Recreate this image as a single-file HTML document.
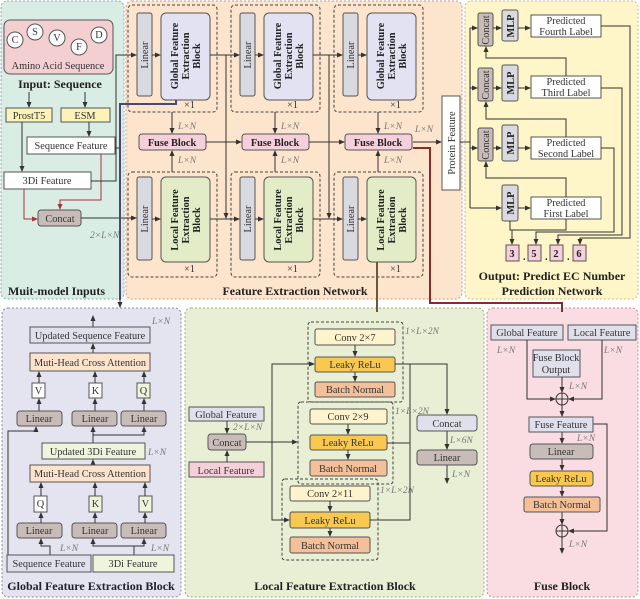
<!DOCTYPE html>
<html><head><meta charset="utf-8"><style>
html,body{margin:0;padding:0;background:#fff}
svg{display:block}
text{font-family:"Liberation Serif",serif;font-size:10.3px;fill:#333}
.b{font-weight:bold;fill:#222}
.t{font-weight:bold;font-size:12px;fill:#222}
.i{font-style:italic;fill:#777;font-size:9.5px}
.bx{stroke:#555;stroke-width:1}
.ln{stroke:#333;stroke-width:1;fill:none}
.dg{stroke:#444;stroke-width:1;fill:none;stroke-dasharray:3,2}
</style></head><body>
<svg width="640" height="599" viewBox="0 0 640 599" xmlns="http://www.w3.org/2000/svg">
<defs><marker id="a" markerWidth="6" markerHeight="6" refX="5" refY="3" orient="auto"><path d="M0,0.5 L6,3 L0,5.5z" fill="#333"/></marker>
<marker id="r" markerWidth="6" markerHeight="6" refX="5" refY="3" orient="auto"><path d="M0,0.5 L6,3 L0,5.5z" fill="#a33"/></marker></defs>
<rect x="1" y="1" width="123" height="298" rx="6" fill="#d9ede4" stroke="#8aa" stroke-dasharray="2,2"/>
<rect x="126" y="1" width="336" height="298" rx="6" fill="#fde4cc" stroke="#c98" stroke-dasharray="2,2"/>
<rect x="465" y="1" width="173" height="298" rx="6" fill="#fef6c8" stroke="#cb8" stroke-dasharray="2,2"/>
<rect x="2" y="308" width="179" height="289" rx="6" fill="#e4e3f0" stroke="#889" stroke-dasharray="2,2"/>
<rect x="185" y="308" width="299" height="289" rx="6" fill="#e8efd4" stroke="#9a8" stroke-dasharray="2,2"/>
<rect x="487" y="308" width="151" height="289" rx="6" fill="#fadde2" stroke="#c89" stroke-dasharray="2,2"/>

<rect x="4" y="20" width="109" height="54" rx="6" fill="#f4cfd2" class="bx"/>
<g fill="#fff" stroke="#555"><circle cx="15" cy="40" r="8"/><circle cx="35" cy="32" r="8"/><circle cx="57" cy="38" r="8"/><circle cx="79" cy="47" r="8"/><circle cx="99" cy="35" r="8"/></g>
<text x="15" y="43" text-anchor="middle">C</text><text x="35" y="35" text-anchor="middle">S</text><text x="57" y="41" text-anchor="middle">V</text><text x="79" y="50" text-anchor="middle">F</text><text x="99" y="38" text-anchor="middle">D</text>
<text x="58" y="69" text-anchor="middle">Amino Acid Sequence</text>
<text x="60" y="88" text-anchor="middle" class="t">Input: Sequence</text>
<line x1="29" y1="92" x2="29" y2="107" class="ln" marker-end="url(#a)"/><line x1="85" y1="92" x2="85" y2="107" class="ln" marker-end="url(#a)"/>
<rect x="6" y="108" width="46" height="14" fill="#fdf2b8" class="bx"/><text x="29" y="119" text-anchor="middle">ProstT5</text>
<rect x="61" y="108" width="49" height="14" fill="#fdf2b8" class="bx"/><text x="85" y="119" text-anchor="middle">ESM</text>
<line x1="89" y1="122" x2="89" y2="136" class="ln" marker-end="url(#a)"/>
<rect x="27" y="137" width="88" height="17" fill="#fff" class="bx"/><text x="71" y="149" text-anchor="middle">Sequence Feature</text>
<line x1="22" y1="122" x2="22" y2="171" class="ln" marker-end="url(#a)"/>
<rect x="4" y="172" width="87" height="17" fill="#fff" class="bx"/><text x="47" y="184" text-anchor="middle">3Di Feature</text>
<polyline points="24,189 24,219 37,219" stroke="#a33" fill="none" marker-end="url(#r)"/>
<polyline points="101,154 101,200 60,200 60,209" stroke="#a33" fill="none" marker-end="url(#r)"/>
<rect x="38" y="210" width="43" height="16" rx="3" fill="#c8bcb8" class="bx"/><text x="60" y="222" text-anchor="middle">Concat</text>
<text x="90" y="238" class="i">2×L×N</text>
<polyline points="91,181 116,181 116,55 136,55" class="ln" marker-end="url(#a)"/>
<line x1="115" y1="148" x2="120" y2="148" class="ln"/>
<line x1="81" y1="218" x2="136" y2="218" class="ln" marker-end="url(#a)"/>
<text x="8" y="295" class="t">Muit-model Inputs</text>

<g id="col">
<rect x="128" y="5" width="89" height="107" rx="4" class="dg"/>
<rect x="137" y="13" width="15" height="83" rx="2" fill="#d9d9e0" class="bx"/>
<text transform="translate(148,55) rotate(-90)" text-anchor="middle">Linear</text>
<rect x="161" y="13" width="49" height="87" rx="5" fill="#e2e2f2" class="bx"/>
<text transform="translate(178,56) rotate(-90)" text-anchor="middle" class="b">Global Feature</text>
<text transform="translate(189,56) rotate(-90)" text-anchor="middle" class="b">Extraction</text>
<text transform="translate(200,56) rotate(-90)" text-anchor="middle" class="b">Block</text>
<text x="184" y="108">×1</text>
<line x1="152" y1="55" x2="160" y2="55" class="ln" marker-end="url(#a)"/>
<line x1="172" y1="112" x2="172" y2="133" class="ln" marker-end="url(#a)"/>
<text x="178" y="129" class="i">L×N</text>
<rect x="139" y="134" width="67" height="16" rx="3" fill="#f5d0da" class="bx"/><text x="172" y="146" text-anchor="middle" class="b">Fuse Block</text>
<line x1="172" y1="172" x2="172" y2="151" class="ln" marker-end="url(#a)"/>
<text x="178" y="163" class="i">L×N</text>
<rect x="128" y="172" width="89" height="105" rx="4" class="dg"/>
<rect x="137" y="177" width="15" height="83" rx="2" fill="#d9d9e0" class="bx"/>
<text transform="translate(148,219) rotate(-90)" text-anchor="middle">Linear</text>
<rect x="161" y="177" width="49" height="85" rx="5" fill="#e2ecc6" class="bx"/>
<text transform="translate(178,220) rotate(-90)" text-anchor="middle" class="b">Local Feature</text>
<text transform="translate(189,220) rotate(-90)" text-anchor="middle" class="b">Extraction</text>
<text transform="translate(200,220) rotate(-90)" text-anchor="middle" class="b">Block</text>
<text x="184" y="272">×1</text>
<line x1="152" y1="219" x2="160" y2="219" class="ln" marker-end="url(#a)"/>
</g>
<use href="#col" x="103"/><use href="#col" x="206"/>
<line x1="210" y1="55" x2="239" y2="55" class="ln" marker-end="url(#a)"/>
<line x1="313" y1="55" x2="342" y2="55" class="ln" marker-end="url(#a)"/>
<line x1="210" y1="219" x2="239" y2="219" class="ln" marker-end="url(#a)"/>
<line x1="313" y1="219" x2="342" y2="219" class="ln" marker-end="url(#a)"/>
<line x1="226" y1="55" x2="226" y2="218" class="ln" marker-end="url(#a)"/>
<line x1="329" y1="55" x2="329" y2="218" class="ln" marker-end="url(#a)"/>
<line x1="206" y1="142" x2="241" y2="142" class="ln" marker-end="url(#a)"/>
<line x1="309" y1="142" x2="344" y2="142" class="ln" marker-end="url(#a)"/>
<line x1="413" y1="142" x2="441" y2="142" class="ln" marker-end="url(#a)"/>
<text x="415" y="132" class="i">L×N</text>
<rect x="442" y="96" width="18" height="94" fill="#fff" class="bx"/>
<text transform="translate(455,143) rotate(-90)" text-anchor="middle">Protein Feature</text>
<text x="295" y="295" text-anchor="middle" class="t">Feature Extraction Network</text>
<polyline points="176,100 176,104 120,104 120,300" stroke="#4a4870" stroke-width="2" fill="none"/>
<line x1="120" y1="300" x2="120" y2="307" class="ln" marker-end="url(#a)"/>
<line x1="377" y1="262" x2="377" y2="312" stroke="#6a5a3a" stroke-width="2"/>
<polyline points="413,148 430,148 430,303 562,303 562,312" stroke="#8b2a2a" stroke-width="2" fill="none"/>

<polyline points="460,142 470,142" class="ln"/>
<line x1="470" y1="28" x2="470" y2="208" class="ln"/>
<line x1="470" y1="28" x2="477" y2="28" class="ln" marker-end="url(#a)"/>
<line x1="470" y1="88" x2="477" y2="88" class="ln" marker-end="url(#a)"/>
<line x1="470" y1="148" x2="477" y2="148" class="ln" marker-end="url(#a)"/>
<line x1="470" y1="208" x2="501" y2="208" class="ln" marker-end="url(#a)"/>
<g fill="#c8bcb8" stroke="#555">
<rect x="478" y="13" width="15" height="33" rx="2"/><rect x="478" y="68" width="15" height="33" rx="2"/><rect x="478" y="128" width="15" height="33" rx="2"/></g>
<text transform="translate(489,30) rotate(-90)" text-anchor="middle">Concat</text>
<text transform="translate(489,85) rotate(-90)" text-anchor="middle">Concat</text>
<text transform="translate(489,145) rotate(-90)" text-anchor="middle">Concat</text>
<g fill="#d9d9e0" stroke="#555">
<rect x="502" y="10" width="16" height="31" rx="2"/><rect x="502" y="65" width="16" height="36" rx="2"/><rect x="502" y="125" width="16" height="36" rx="2"/><rect x="502" y="185" width="16" height="36" rx="2"/></g>
<text transform="translate(514,26) rotate(-90)" text-anchor="middle" class="b">MLP</text>
<text transform="translate(514,83) rotate(-90)" text-anchor="middle" class="b">MLP</text>
<text transform="translate(514,143) rotate(-90)" text-anchor="middle" class="b">MLP</text>
<text transform="translate(514,203) rotate(-90)" text-anchor="middle" class="b">MLP</text>
<line x1="493" y1="28" x2="501" y2="28" class="ln" marker-end="url(#a)"/>
<line x1="493" y1="88" x2="501" y2="88" class="ln" marker-end="url(#a)"/>
<line x1="493" y1="148" x2="501" y2="148" class="ln" marker-end="url(#a)"/>
<line x1="518" y1="28" x2="530" y2="28" class="ln" marker-end="url(#a)"/>
<line x1="518" y1="88" x2="530" y2="88" class="ln" marker-end="url(#a)"/>
<line x1="518" y1="148" x2="530" y2="148" class="ln" marker-end="url(#a)"/>
<line x1="518" y1="208" x2="530" y2="208" class="ln" marker-end="url(#a)"/>
<g fill="#fff" stroke="#555"><rect x="531" y="15" width="70" height="22"/><rect x="531" y="76" width="70" height="22"/><rect x="531" y="137" width="70" height="22"/><rect x="531" y="197" width="70" height="22"/></g>
<text x="566" y="24" text-anchor="middle">Predicted</text><text x="566" y="35" text-anchor="middle">Fourth Label</text>
<text x="566" y="85" text-anchor="middle">Predicted</text><text x="566" y="96" text-anchor="middle">Third Label</text>
<text x="566" y="146" text-anchor="middle">Predicted</text><text x="566" y="157" text-anchor="middle">Second Label</text>
<text x="566" y="206" text-anchor="middle">Predicted</text><text x="566" y="217" text-anchor="middle">First Label</text>
<polyline points="566,76 566,58 486,58 486,47" class="ln" marker-end="url(#a)"/>
<polyline points="566,137 566,119 486,119 486,102" class="ln" marker-end="url(#a)"/>
<polyline points="566,197 566,178 486,178 486,162" class="ln" marker-end="url(#a)"/>
<polyline points="510,221 510,230 566,230 566,219" class="ln"/>
<line x1="512" y1="230" x2="512" y2="244" class="ln" marker-end="url(#a)"/>
<polyline points="601,148 614,148 614,232 536,232 536,244" class="ln" marker-end="url(#a)"/>
<polyline points="601,88 622,88 622,235 558,235 558,244" class="ln" marker-end="url(#a)"/>
<polyline points="601,26 630,26 630,238 580,238 580,244" class="ln" marker-end="url(#a)"/>
<g fill="#f5d0da" stroke="#555"><rect x="506" y="245" width="13" height="16"/><rect x="528" y="245" width="13" height="16"/><rect x="550" y="245" width="13" height="16"/><rect x="573" y="245" width="13" height="16"/></g>
<text x="512" y="257" text-anchor="middle" class="b">3</text><text x="534" y="257" text-anchor="middle" class="b">5</text><text x="556" y="257" text-anchor="middle" class="b">2</text><text x="579" y="257" text-anchor="middle" class="b">6</text>
<text x="523" y="260" class="b">.</text><text x="545" y="260" class="b">.</text><text x="567" y="260" class="b">.</text>
<text x="552" y="280" text-anchor="middle" class="t">Output: Predict EC Number</text>
<text x="552" y="295" text-anchor="middle" class="t">Prediction Network</text>

<line x1="93" y1="327" x2="93" y2="316" class="ln" marker-end="url(#a)"/>
<text x="152" y="324" class="i">L×N</text>
<rect x="30" y="327" width="120" height="16" fill="#e0e0ec" class="bx"/><text x="90" y="339" text-anchor="middle">Updated Sequence Feature</text>
<line x1="93" y1="353" x2="93" y2="344" class="ln" marker-end="url(#a)"/>
<rect x="30" y="353" width="120" height="18" fill="#fde3cc" class="bx"/><text x="90" y="366" text-anchor="middle">Muti-Head Cross Attention</text>
<rect x="32" y="383" width="13" height="15" fill="#fff" class="bx"/><text x="38.5" y="394" text-anchor="middle">V</text>
<rect x="89" y="383" width="13" height="15" fill="#fff" class="bx"/><text x="95.5" y="394" text-anchor="middle">K</text>
<rect x="137" y="383" width="13" height="15" fill="#eef5dc" class="bx"/><text x="143.5" y="394" text-anchor="middle">Q</text>
<g class="ln"><line x1="39" y1="383" x2="39" y2="372" marker-end="url(#a)"/><line x1="95" y1="383" x2="95" y2="372" marker-end="url(#a)"/><line x1="144" y1="383" x2="144" y2="372" marker-end="url(#a)"/>
<line x1="39" y1="411" x2="39" y2="399" marker-end="url(#a)"/><line x1="95" y1="411" x2="95" y2="399" marker-end="url(#a)"/><line x1="144" y1="411" x2="144" y2="399" marker-end="url(#a)"/></g>
<g fill="#c8bcb8" stroke="#555"><rect x="17" y="411" width="45" height="15" rx="3"/><rect x="72" y="411" width="45" height="15" rx="3"/><rect x="121" y="411" width="45" height="15" rx="3"/>
<rect x="17" y="523" width="45" height="15" rx="3"/><rect x="72" y="523" width="45" height="15" rx="3"/><rect x="121" y="523" width="45" height="15" rx="3"/></g>
<text x="39" y="422" text-anchor="middle">Linear</text><text x="95" y="422" text-anchor="middle">Linear</text><text x="144" y="422" text-anchor="middle">Linear</text>
<text x="39" y="534" text-anchor="middle">Linear</text><text x="95" y="534" text-anchor="middle">Linear</text><text x="144" y="534" text-anchor="middle">Linear</text>
<g class="ln"><polyline points="93,443 93,435 144,435 144,427" marker-end="url(#a)"/><line x1="93" y1="435" x2="93" y2="427" marker-end="url(#a)"/>
<polyline points="8,563 8,431 36,431 36,427" marker-end="url(#a)"/></g>
<rect x="42" y="443" width="103" height="16" fill="#eef5dc" class="bx"/><text x="93" y="455" text-anchor="middle">Updated 3Di Feature</text>
<text x="148" y="455" class="i">L×N</text>
<line x1="93" y1="465" x2="93" y2="460" class="ln" marker-end="url(#a)"/>
<rect x="30" y="465" width="120" height="17" fill="#fde3cc" class="bx"/><text x="90" y="477" text-anchor="middle">Muti-Head Cross Attention</text>
<rect x="34" y="496" width="13" height="16" fill="#fff" class="bx"/><text x="40.5" y="507" text-anchor="middle">Q</text>
<rect x="89" y="496" width="13" height="16" fill="#eef5dc" class="bx"/><text x="95.5" y="507" text-anchor="middle">K</text>
<rect x="139" y="496" width="13" height="16" fill="#eef5dc" class="bx"/><text x="145.5" y="507" text-anchor="middle">V</text>
<g class="ln"><line x1="41" y1="496" x2="41" y2="483" marker-end="url(#a)"/><line x1="95" y1="496" x2="95" y2="483" marker-end="url(#a)"/><line x1="145" y1="496" x2="145" y2="483" marker-end="url(#a)"/>
<line x1="41" y1="523" x2="41" y2="513" marker-end="url(#a)"/><line x1="95" y1="523" x2="95" y2="513" marker-end="url(#a)"/><line x1="145" y1="523" x2="145" y2="513" marker-end="url(#a)"/>
<polyline points="50,555 50,546 41,546 41,539" marker-end="url(#a)"/>
<polyline points="134,555 134,546 93,546 93,539" marker-end="url(#a)"/><polyline points="134,546 144,546 144,539" marker-end="url(#a)"/></g>
<text x="60" y="551" class="i">L×N</text><text x="151" y="551" class="i">L×N</text>
<rect x="7" y="555" width="84" height="17" fill="#e0e0ec" class="bx"/><text x="49" y="567" text-anchor="middle">Sequence Feature</text>
<rect x="93" y="555" width="81" height="17" fill="#eef5dc" class="bx"/><text x="133" y="567" text-anchor="middle">3Di Feature</text>
<text x="91" y="590" text-anchor="middle" class="t">Global Feature Extraction Block</text>

<rect x="189" y="407" width="75" height="14" fill="#e0e0ec" class="bx"/><text x="226" y="418" text-anchor="middle">Global Feature</text>
<rect x="208" y="434" width="38" height="16" rx="3" fill="#c8bcb8" class="bx"/><text x="227" y="446" text-anchor="middle">Concat</text>
<rect x="189" y="462" width="75" height="15" fill="#f5d0da" class="bx"/><text x="226" y="474" text-anchor="middle">Local Feature</text>
<text x="233" y="430" class="i">2×L×N</text>
<g class="ln"><line x1="227" y1="421" x2="227" y2="433" marker-end="url(#a)"/><line x1="227" y1="462" x2="227" y2="451" marker-end="url(#a)"/>
<line x1="246" y1="442" x2="297" y2="442" marker-end="url(#a)"/>
<polyline points="272,442 272,364 314,364" marker-end="url(#a)"/>
<polyline points="272,442 272,520 289,520" marker-end="url(#a)"/></g>
<rect x="308" y="322" width="95" height="80" rx="3" class="dg"/>
<rect x="298" y="402" width="95" height="82" rx="3" class="dg"/>
<rect x="282" y="479" width="96" height="81" rx="3" class="dg"/>
<g stroke="#555">
<rect x="315" y="329" width="80" height="16" rx="2" fill="#fdf3cc"/><rect x="315" y="357" width="80" height="15" rx="2" fill="#f8c850"/><rect x="315" y="382" width="80" height="15" rx="2" fill="#f4c09a"/>
<rect x="310" y="409" width="77" height="15" rx="2" fill="#fdf3cc"/><rect x="310" y="435" width="77" height="15" rx="2" fill="#f8c850"/><rect x="310" y="460" width="77" height="16" rx="2" fill="#f4c09a"/>
<rect x="290" y="486" width="80" height="15" rx="2" fill="#fdf3cc"/><rect x="290" y="512" width="80" height="16" rx="2" fill="#f8c850"/><rect x="290" y="537" width="80" height="16" rx="2" fill="#f4c09a"/></g>
<text x="355" y="341" text-anchor="middle">Conv 2×7</text><text x="355" y="368" text-anchor="middle">Leaky ReLu</text><text x="355" y="393" text-anchor="middle">Batch Normal</text>
<text x="348" y="420" text-anchor="middle">Conv 2×9</text><text x="348" y="446" text-anchor="middle">Leaky ReLu</text><text x="348" y="472" text-anchor="middle">Batch Normal</text>
<text x="330" y="497" text-anchor="middle">Conv 2×11</text><text x="330" y="524" text-anchor="middle">Leaky ReLu</text><text x="330" y="549" text-anchor="middle">Batch Normal</text>
<g class="ln"><line x1="355" y1="345" x2="355" y2="356" marker-end="url(#a)"/><line x1="355" y1="372" x2="355" y2="381" marker-end="url(#a)"/>
<line x1="348" y1="424" x2="348" y2="434" marker-end="url(#a)"/><line x1="348" y1="450" x2="348" y2="459" marker-end="url(#a)"/>
<line x1="330" y1="501" x2="330" y2="511" marker-end="url(#a)"/><line x1="330" y1="528" x2="330" y2="536" marker-end="url(#a)"/>
<polyline points="395,364 447,364 447,414" marker-end="url(#a)"/>
<polyline points="387,443 410,443 410,364"/><polyline points="370,520 410,520 410,443"/>
<line x1="447" y1="431" x2="447" y2="449" marker-end="url(#a)"/><line x1="447" y1="465" x2="447" y2="483" marker-end="url(#a)"/></g>
<text x="405" y="334" class="i">1×L×2N</text><text x="395" y="414" class="i">1×L×2N</text><text x="380" y="493" class="i">1×L×2N</text>
<rect x="417" y="415" width="60" height="16" rx="3" fill="#e0e0ec" class="bx"/><text x="447" y="427" text-anchor="middle">Concat</text>
<rect x="417" y="450" width="60" height="15" rx="3" fill="#c8bcb8" class="bx"/><text x="447" y="461" text-anchor="middle">Linear</text>
<text x="450" y="443" class="i">L×6N</text><text x="452" y="477" class="i">L×N</text>
<text x="335" y="590" text-anchor="middle" class="t">Local Feature Extraction Block</text>

<rect x="491" y="325" width="72" height="15" fill="#e0e0ec" class="bx"/><text x="527" y="336" text-anchor="middle">Global Feature</text>
<rect x="568" y="325" width="68" height="15" fill="#e0e0ec" class="bx"/><text x="602" y="336" text-anchor="middle">Local Feature</text>
<text x="497" y="353" class="i">L×N</text><text x="604" y="353" class="i">L×N</text>
<rect x="533" y="350" width="47" height="27" fill="#e0e0ec" class="bx"/><text x="556" y="361" text-anchor="middle">Fuse Block</text><text x="556" y="373" text-anchor="middle">Output</text>
<text x="569" y="389" class="i">L×N</text>
<circle cx="562" cy="399" r="6" fill="none" stroke="#333"/><line x1="556" y1="399" x2="568" y2="399" class="ln"/><line x1="562" y1="393" x2="562" y2="405" class="ln"/>
<g class="ln"><line x1="562" y1="377" x2="562" y2="392" marker-end="url(#a)"/>
<polyline points="527,340 527,399 555,399" marker-end="url(#a)"/><polyline points="602,340 602,399 569,399" marker-end="url(#a)"/>
<line x1="562" y1="405" x2="562" y2="416" marker-end="url(#a)"/>
<line x1="562" y1="432" x2="562" y2="443" marker-end="url(#a)"/><line x1="562" y1="459" x2="562" y2="470" marker-end="url(#a)"/>
<line x1="562" y1="486" x2="562" y2="496" marker-end="url(#a)"/><line x1="562" y1="512" x2="562" y2="524" marker-end="url(#a)"/>
<polyline points="593,424 607,424 607,531 569,531" marker-end="url(#a)"/>
<line x1="562" y1="537" x2="562" y2="553" marker-end="url(#a)"/></g>
<rect x="529" y="417" width="64" height="15" fill="#e0e0ec" class="bx"/><text x="561" y="428" text-anchor="middle">Fuse Feature</text>
<text x="577" y="441" class="i">L×N</text>
<rect x="530" y="444" width="63" height="15" rx="3" fill="#c8bcb8" class="bx"/><text x="561" y="455" text-anchor="middle">Linear</text>
<rect x="530" y="471" width="63" height="15" rx="3" fill="#f8c850" class="bx"/><text x="561" y="482" text-anchor="middle">Leaky ReLu</text>
<rect x="524" y="497" width="76" height="15" rx="2" fill="#f4c09a" class="bx"/><text x="562" y="508" text-anchor="middle">Batch Normal</text>
<circle cx="562" cy="531" r="6" fill="none" stroke="#333"/><line x1="556" y1="531" x2="568" y2="531" class="ln"/><line x1="562" y1="525" x2="562" y2="537" class="ln"/>
<text x="569" y="547" class="i">L×N</text>
<text x="562" y="590" text-anchor="middle" class="t">Fuse Block</text>
</svg>
</body></html>
